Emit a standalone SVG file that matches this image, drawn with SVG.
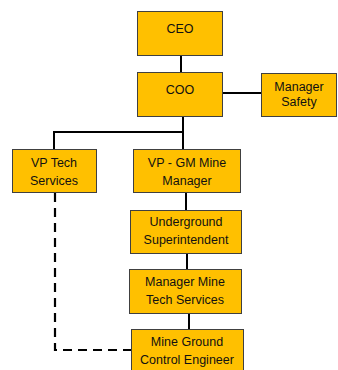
<svg xmlns="http://www.w3.org/2000/svg" width="338" height="370" viewBox="0 0 338 370">
<style>
.box{fill:#FFC000;stroke:#404040;stroke-width:1}
.t{font-family:"Liberation Sans",Arial,sans-serif;font-size:12.5px;fill:#111;text-anchor:middle}
.c{stroke:#000;stroke-width:2;fill:none}
.d{stroke:#000;stroke-width:2.2;fill:none;stroke-dasharray:9 6}
</style>
<rect width="338" height="370" fill="#fff"/>
<g id="connectors">
<line class="c" x1="181" y1="55" x2="181" y2="72"/>
<line class="c" x1="222" y1="93" x2="261" y2="93"/>
<line class="c" x1="183" y1="117" x2="183" y2="149"/>
<polyline class="c" points="54,149 54,132 183,132"/>
<line class="c" x1="186" y1="193" x2="186" y2="210"/>
<line class="c" x1="187" y1="254" x2="187" y2="269"/>
<line class="c" x1="189" y1="314" x2="189" y2="329"/>
<polyline class="d" points="55,193 55,350 131,350"/>
</g>
<g id="ceo"><rect class="box" x="137.5" y="11.5" width="85" height="44"/><text class="t" x="180" y="33">CEO</text></g>
<g id="coo"><rect class="box" x="137.5" y="72.5" width="85" height="44"/><text class="t" x="180" y="94">COO</text></g>
<g id="safety"><rect class="box" x="261.5" y="73.5" width="75" height="43"/><text class="t" x="299" y="91">Manager</text><text class="t" x="299" y="106">Safety</text></g>
<g id="vptech"><rect class="box" x="12.5" y="149.5" width="84" height="43"/><text class="t" x="54" y="167">VP Tech</text><text class="t" x="54" y="185">Services</text></g>
<g id="vpgm"><rect class="box" x="133.5" y="149.5" width="107" height="43"/><text class="t" x="187" y="167">VP - GM Mine</text><text class="t" x="187" y="185">Manager</text></g>
<g id="underground"><rect class="box" x="130.5" y="210.5" width="111" height="43"/><text class="t" x="186" y="226">Underground</text><text class="t" x="186" y="244">Superintendent</text></g>
<g id="managermine"><rect class="box" x="129.5" y="269.5" width="112" height="44"/><text class="t" x="185" y="286">Manager Mine</text><text class="t" x="185" y="304">Tech Services</text></g>
<g id="mineground"><rect class="box" x="131.5" y="329.5" width="112" height="50"/><text class="t" x="187" y="346">Mine Ground</text><text class="t" x="187" y="364">Control Engineer</text></g>
</svg>
